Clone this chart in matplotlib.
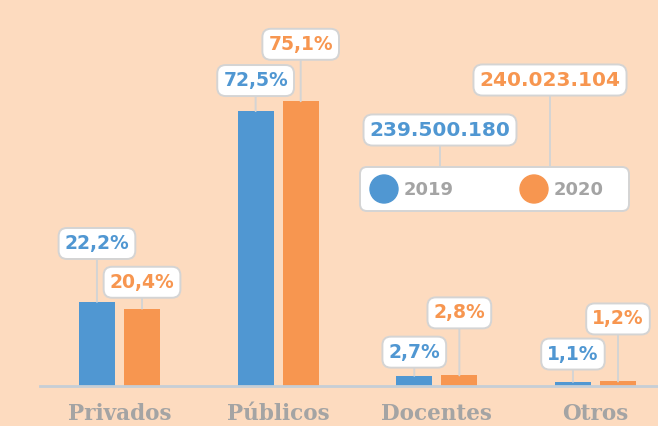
import numpy as np
import matplotlib.pyplot as plt
from matplotlib.patches import FancyBboxPatch, Circle

categories = ['Privados', 'Públicos', 'Docentes', 'Otros']
years = ['2019', '2020']
share_2019 = [22.2, 72.5, 2.7, 1.1]
share_2020 = [20.4, 75.1, 2.8, 1.2]
totals = ['239.500.180', '240.023.104']

BG = '#FDDBBF'
BLUE = '#5097D2'
ORANGE = '#F79650'
GREY_TXT = '#A4A4A4'
EDGE = '#D4D4D4'

# label lift above bar top (points), blue / orange
lift_2019 = [42, 22, 17, 20]
lift_2020 = [19, 41, 45, 45]

W, H = 658, 426
fig = plt.figure(figsize=(W / 100, H / 100), dpi=100, facecolor=BG)

ax = fig.add_axes([40 / W, 40 / H, 618 / W, 386 / H])
ax.set_facecolor(BG)
ax.patch.set_alpha(0)
x = np.arange(len(categories))
bw, off = 0.227, 0.142
ax.bar(x - off, share_2019, bw, color=BLUE, zorder=2)
ax.bar(x + off, share_2020, bw, color=ORANGE, zorder=2)
ax.set_xlim(-0.501, 3.394)
ax.set_ylim(0, 101.8)

for s in ['top', 'right', 'left']:
    ax.spines[s].set_visible(False)
ax.spines['bottom'].set_color('#C6CED6')
ax.spines['bottom'].set_linewidth(2)
ax.set_yticks([])
ax.set_xticks(x)
ax.set_xticklabels(categories, fontfamily='DejaVu Serif', fontweight='bold',
                   fontsize=15.5, color=GREY_TXT)
ax.tick_params(axis='x', length=0, pad=12)


def label(xp, v, lift, color):
    ax.annotate(f'{v:.1f}%'.replace('.', ','), xy=(xp, v), xytext=(0, lift),
                textcoords='offset points', ha='center', va='center',
                fontsize=13.5, fontweight='bold', color=color, zorder=5,
                annotation_clip=False,
                bbox=dict(boxstyle='round,pad=0.32,rounding_size=0.45',
                          fc='white', ec=EDGE, lw=1.4),
                arrowprops=dict(arrowstyle='-', color=EDGE, lw=1.4,
                                shrinkA=0, shrinkB=0))


for i in range(len(categories)):
    label(x[i] - off, share_2019[i], lift_2019[i], BLUE)
    label(x[i] + off, share_2020[i], lift_2020[i], ORANGE)

# legend + totals in pixel space
lg = fig.add_axes([0, 0, 1, 1])
lg.set_xlim(0, W)
lg.set_ylim(H, 0)
lg.axis('off')
lg.patch.set_alpha(0)

lg.plot([440, 440], [145, 167], color=EDGE, lw=1.4, zorder=1)
lg.plot([550, 550], [95, 167], color=EDGE, lw=1.4, zorder=1)
lg.add_patch(FancyBboxPatch((360, 167), 269, 44,
                            boxstyle='round,pad=0,rounding_size=7',
                            fc='white', ec=EDGE, lw=1.4, zorder=2))
for (cx, tx), yr, col in zip([(384, 404), (534, 554)], years, [BLUE, ORANGE]):
    lg.add_patch(Circle((cx, 189), 14, color=col, zorder=3))
    lg.text(tx, 190, yr, ha='left', va='center', fontsize=13,
            fontweight='bold', color=GREY_TXT, zorder=3)

for (cx, cy), t, col in zip([(440, 130), (550, 80)], totals, [BLUE, ORANGE]):
    lg.text(cx, cy, t, ha='center', va='center', fontsize=14.5,
            fontweight='bold', color=col, zorder=4,
            bbox=dict(boxstyle='round,pad=0.3,rounding_size=0.45',
                      fc='white', ec=EDGE, lw=1.4))

fig.savefig('out.png', dpi=100, facecolor=BG)
